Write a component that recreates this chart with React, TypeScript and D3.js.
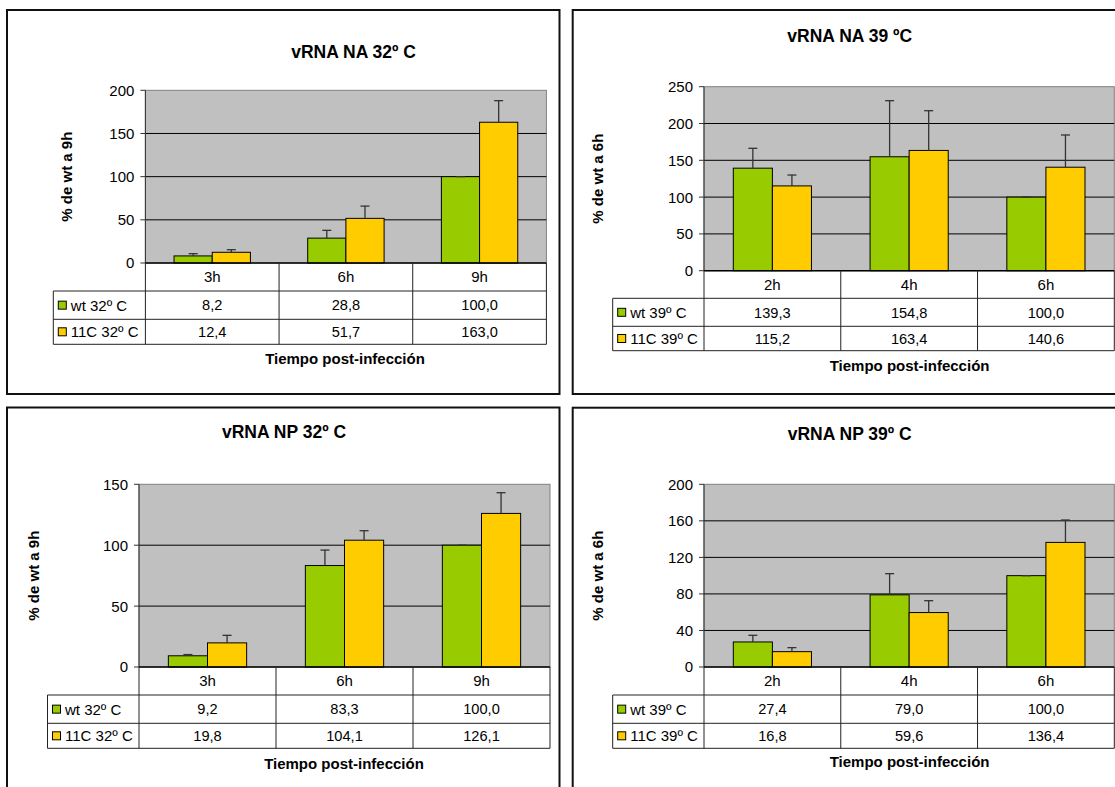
import React from "react";
import * as d3 from "d3";

// ---------- data ----------
const categories32 = ["3h", "6h", "9h"];
const categories39 = ["2h", "4h", "6h"];
const seriesNames32 = ["wt 32º C", "11C 32º C"];
const seriesNames39 = ["wt 39º C", "11C 39º C"];

const naWt32 = [8.2, 28.8, 100.0];
const na11c32 = [12.4, 51.7, 163.0];
const naWt32Err = [2.6, 9.0, 0];
const na11c32Err = [3.0, 14.2, 25.0];

const naWt39 = [139.3, 154.8, 100.0];
const na11c39 = [115.2, 163.4, 140.6];
const naWt39Err = [27.0, 76.2, 0];
const na11c39Err = [14.8, 54.0, 43.8];

const npWt32 = [9.2, 83.3, 100.0];
const np11c32 = [19.8, 104.1, 126.1];
const npWt32Err = [1.0, 12.7, 0];
const np11c32Err = [6.2, 7.8, 17.0];

const npWt39 = [27.4, 79.0, 100.0];
const np11c39 = [16.8, 59.6, 136.4];
const npWt39Err = [7.3, 23.2, 0];
const np11c39Err = [4.4, 13.0, 24.5];

const ticksNA32 = [0, 50, 100, 150, 200];
const ticksNA39 = [0, 50, 100, 150, 200, 250];
const ticksNP32 = [0, 50, 100, 150];
const ticksNP39 = [0, 40, 80, 120, 160, 200];

const titleNA32 = "vRNA NA 32º C";
const titleNA39 = "vRNA NA 39 ºC";
const titleNP32 = "vRNA NP 32º C";
const titleNP39 = "vRNA NP 39º C";
const yLabel9h = "% de wt a 9h";
const yLabel6h = "% de wt a 6h";
const xLabel = "Tiempo post-infección";

// ---------- style ----------
const FONT = "'Liberation Sans', Arial, Helvetica, sans-serif";
const COLORS = ["#99CC00", "#FFCC00"];
const PLOT_BG = "#C0C0C0";

const fmt = (v: number) => d3.format(".1f")(v).replace(".", ",");

type Layout = {
  fx: number; fy: number; fw: number; fh: number;
  left: number; right: number; top: number; y0: number;
  r0: number; r1: number; r2: number; legendLeft: number;
  titleX: number; titleY: number; xLabX: number; xLabY: number; yLabX: number;
};

type PanelProps = {
  layout: Layout;
  title: string;
  categories: string[];
  seriesNames: string[];
  values: number[][];
  errors: number[][];
  ticks: number[];
  yLabel: string;
};

function Panel({ layout: L, title, categories, seriesNames, values, errors, ticks, yLabel }: PanelProps) {
  const yMax = ticks[ticks.length - 1];
  const y = d3.scaleLinear().domain([0, yMax]).range([L.y0, L.top]);
  const x = d3.scaleBand<string>().domain(categories).range([L.left, L.right]).padding(0);
  const col = x.bandwidth();
  const bw = col / 3.5;
  const inner = d3.scaleBand<number>().domain(seriesNames.map((_, i) => i)).range([-bw, bw]).padding(0);
  const capW = 9;
  const rowMid = [(L.y0 + L.r0) / 2, (L.r0 + L.r1) / 2, (L.r1 + L.r2) / 2];

  return (
    <g>
      <rect x={L.fx} y={L.fy} width={L.fw} height={L.fh} fill="#fff" stroke="#111" strokeWidth={2} />
      <text x={L.titleX} y={L.titleY} textAnchor="middle" fontFamily={FONT} fontWeight="bold" fontSize={17.5}>{title}</text>

      <rect x={L.left} y={L.top} width={L.right - L.left} height={L.y0 - L.top} fill={PLOT_BG} stroke="#808080" strokeWidth={1} />
      {ticks.filter((t) => t > 0 && t < yMax).map((t) => (
        <line key={"g" + t} x1={L.left} x2={L.right} y1={y(t)} y2={y(t)} stroke="#000" strokeWidth={1} />
      ))}

      {values.map((vals, si) =>
        vals.map((v, ci) => {
          const bx = (x(categories[ci]) as number) + col / 2 + (inner(si) as number);
          return (
            <rect key={`b${si}-${ci}`} x={bx} y={y(v)} width={inner.bandwidth()} height={L.y0 - y(v)}
              fill={COLORS[si]} stroke="#000" strokeWidth={1} />
          );
        })
      )}
      {values.map((vals, si) =>
        vals.map((v, ci) => {
          const cx = (x(categories[ci]) as number) + col / 2 + (inner(si) as number) + inner.bandwidth() / 2;
          const top = y(v + errors[si][ci]);
          return (
            <g key={`e${si}-${ci}`} stroke="#333" strokeWidth={1.3}>
              <line x1={cx} x2={cx} y1={y(v)} y2={top} />
              <line x1={cx - capW / 2} x2={cx + capW / 2} y1={top} y2={top} />
            </g>
          );
        })
      )}

      {/* y axis */}
      <line x1={L.left} x2={L.left} y1={L.top} y2={L.y0} stroke="#333" strokeWidth={1} />
      {ticks.map((t) => (
        <g key={"t" + t}>
          <line x1={L.left - 5} x2={L.left} y1={y(t)} y2={y(t)} stroke="#333" strokeWidth={1} />
          <text x={L.left - 11} y={y(t)} dy="0.36em" textAnchor="end" fontFamily={FONT} fontSize={15}>{t}</text>
        </g>
      ))}

      {/* data table */}
      <g stroke="#222" strokeWidth={1} fill="none">
        <line x1={L.left} x2={L.right} y1={L.y0} y2={L.y0} strokeWidth={1.5} stroke="#000" />
        <line x1={L.legendLeft} x2={L.right} y1={L.r0} y2={L.r0} />
        <line x1={L.legendLeft} x2={L.right} y1={L.r1} y2={L.r1} />
        <line x1={L.legendLeft} x2={L.right} y1={L.r2} y2={L.r2} />
        <line x1={L.legendLeft} x2={L.legendLeft} y1={L.r0} y2={L.r2} />
        <line x1={L.left} x2={L.left} y1={L.y0} y2={L.r2} />
        {categories.map((c) => (
          <line key={"v" + c} x1={(x(c) as number) + col} x2={(x(c) as number) + col} y1={L.y0} y2={L.r2} />
        ))}
      </g>
      {categories.map((c) => (
        <text key={"h" + c} x={(x(c) as number) + col / 2} y={rowMid[0]} dy="0.36em" textAnchor="middle"
          fontFamily={FONT} fontSize={15}>{c}</text>
      ))}
      {values.map((vals, si) => (
        <g key={"row" + si}>
          <rect x={L.legendLeft + 5} y={rowMid[si + 1] - 4} width={8} height={8} fill={COLORS[si]} stroke="#000" strokeWidth={1} />
          <text x={L.legendLeft + 17.5} y={rowMid[si + 1]} dy="0.36em" fontFamily={FONT} fontSize={15}>{seriesNames[si]}</text>
          {vals.map((v, ci) => (
            <text key={"val" + ci} x={(x(categories[ci]) as number) + col / 2} y={rowMid[si + 1]} dy="0.36em"
              textAnchor="middle" fontFamily={FONT} fontSize={14.6}>{fmt(v)}</text>
          ))}
        </g>
      ))}

      <text x={L.xLabX} y={L.xLabY} textAnchor="middle" fontFamily={FONT} fontWeight="bold" fontSize={15}>{xLabel}</text>
      <text transform={`translate(${L.yLabX},${(L.top + L.y0) / 2}) rotate(-90)`} dy="0.36em" textAnchor="middle"
        fontFamily={FONT} fontWeight="bold" fontSize={15}>{yLabel}</text>
    </g>
  );
}

const layoutTL: Layout = {
  fx: 7, fy: 10, fw: 552.5, fh: 384,
  left: 145.4, right: 546.4, top: 90.3, y0: 263,
  r0: 291, r1: 319.3, r2: 344.3, legendLeft: 53.3,
  titleX: 353.6, titleY: 58, xLabX: 345, xLabY: 363.5, yLabX: 66.5,
};
const layoutTR: Layout = {
  fx: 572.7, fy: 10, fw: 560, fh: 384,
  left: 704, right: 1114.3, top: 86.7, y0: 270.7,
  r0: 298.3, r1: 326.3, r2: 350.7, legendLeft: 612.7,
  titleX: 849.7, titleY: 42.3, xLabX: 909.6, xLabY: 370.7, yLabX: 598,
};
const layoutBL: Layout = {
  fx: 7, fy: 407.5, fw: 552.5, fh: 400,
  left: 139, right: 550, top: 484.3, y0: 667,
  r0: 695, r1: 723.3, r2: 748.3, legendLeft: 47.5,
  titleX: 284, titleY: 438.3, xLabX: 344, xLabY: 769, yLabX: 33.6,
};
const layoutBR: Layout = {
  fx: 572.7, fy: 407.7, fw: 560, fh: 400,
  left: 704, right: 1114.3, top: 484.3, y0: 667,
  r0: 695, r1: 723.3, r2: 748.3, legendLeft: 612.7,
  titleX: 849.7, titleY: 440, xLabX: 909.6, xLabY: 767.3, yLabX: 598,
};

export default function App() {
  return (
    <svg width={1115} height={787} style={{ position: "absolute", left: 0, top: 0, background: "#fff" }}>
      <rect x={0} y={0} width={1115} height={787} fill="#fff" />
      <Panel layout={layoutTL} title={titleNA32} categories={categories32} seriesNames={seriesNames32}
        values={[naWt32, na11c32]} errors={[naWt32Err, na11c32Err]} ticks={ticksNA32} yLabel={yLabel9h} />
      <Panel layout={layoutTR} title={titleNA39} categories={categories39} seriesNames={seriesNames39}
        values={[naWt39, na11c39]} errors={[naWt39Err, na11c39Err]} ticks={ticksNA39} yLabel={yLabel6h} />
      <Panel layout={layoutBL} title={titleNP32} categories={categories32} seriesNames={seriesNames32}
        values={[npWt32, np11c32]} errors={[npWt32Err, np11c32Err]} ticks={ticksNP32} yLabel={yLabel9h} />
      <Panel layout={layoutBR} title={titleNP39} categories={categories39} seriesNames={seriesNames39}
        values={[npWt39, np11c39]} errors={[npWt39Err, np11c39Err]} ticks={ticksNP39} yLabel={yLabel6h} />
    </svg>
  );
}
